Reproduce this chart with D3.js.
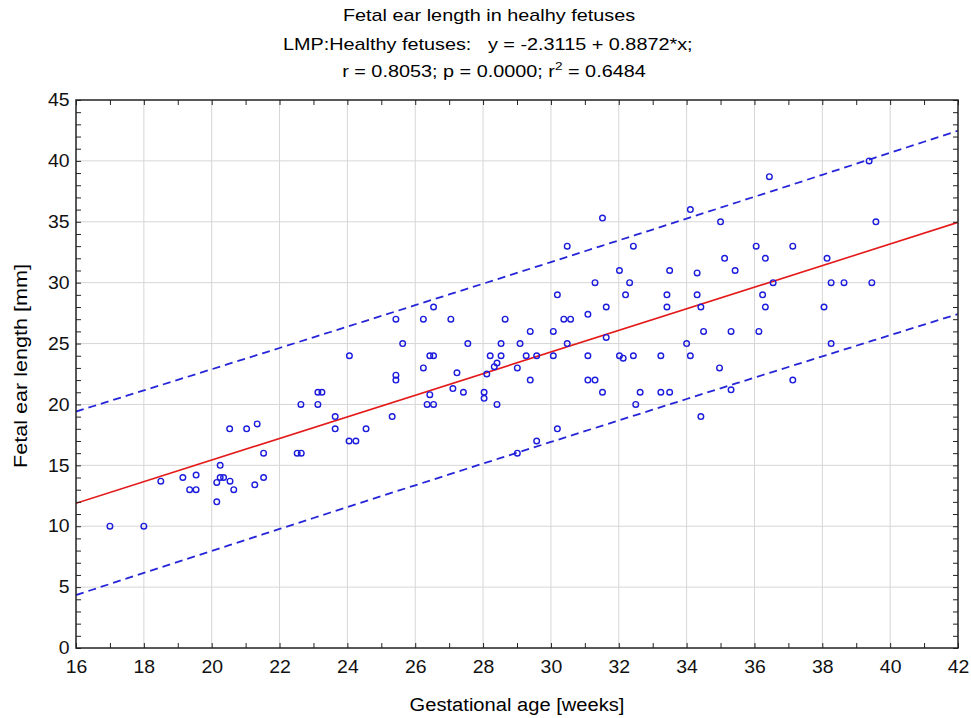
<!DOCTYPE html>
<html>
<head>
<meta charset="utf-8">
<script src="https://cdn.jsdelivr.net/npm/d3@7"></script>
<style>
  body { margin: 0; background: #fff; }
  text { font-family: "Liberation Sans", Arial, sans-serif; }
</style>
</head>
<body>
<div id="chart"></div>
<script>
// Gestational age [weeks] and fetal ear length [mm]
var ages = [
  17, 18, 18.5, 19.15, 19.35, 19.54, 19.54, 20.15, 20.15, 20.25, 20.25, 20.35, 20.54, 20.65,
  20.53, 21.03, 21.34, 21.27, 21.53, 21.53, 22.52, 22.64, 22.63,
  23.13, 23.25, 23.13, 23.64, 23.64, 24.05, 24.25, 24.06, 24.55, 25.32, 25.43, 25.43, 25.43,
  25.63, 26.24, 26.54, 26.24, 26.43, 26.54, 26.43, 26.35, 26.54, 27.05, 27.23, 27.11, 27.42,
  27.55, 28.03, 28.03, 28.11, 28.21, 28.41, 28.33, 28.41, 28.53, 28.53, 28.65, 29.01, 29.01, 29.09,
  29.27, 29.39, 29.39, 29.58, 29.58, 30.07, 30.07, 30.19, 30.19, 30.38, 30.58, 30.48, 30.48,
  31.09, 31.09, 31.09, 31.3, 31.3, 31.52, 31.52, 31.63, 31.63, 32.02, 32.02, 32.13, 32.2, 32.32,
  32.43, 32.43, 32.5, 32.63, 33.24, 33.24, 33.5, 33.42, 33.42, 33.5, 34.0, 34.11, 34.11, 34.31,
  34.31, 34.42, 34.42, 34.5, 35.0, 34.97,
  35.12, 35.31, 35.31, 35.43, 36.05, 36.13, 36.24, 36.32, 36.32, 36.44, 36.55, 37.13, 37.13,
  38.05, 38.14, 38.26, 38.26, 38.64, 39.38, 39.46, 39.58
];
var earLength = [
  10, 10, 13.7, 14, 13, 14.2, 13, 13.6, 12, 15, 14, 14, 13.7, 13,
  18, 18, 18.4, 13.4, 16, 14, 16, 16, 20,
  21, 21, 20, 19, 18, 17, 17, 24, 18, 19, 27, 22.4, 22,
  25, 27, 28, 23, 24, 24, 20.8, 20, 20, 27, 22.6, 21.3, 21,
  25, 21, 20.5, 22.5, 24, 20, 23.1, 23.4, 25, 24, 27, 23, 16, 25,
  24, 26, 22, 24, 17, 26, 24, 29, 18, 27, 27, 33, 25,
  27.4, 24, 22, 22, 30, 35.3, 21, 28, 25.5, 31, 24, 23.8, 29, 30,
  33, 24, 20, 21, 24, 21, 21, 29, 28, 31, 25, 24, 36, 30.8,
  29, 28, 19, 26, 35, 23,
  32, 26, 21.2, 31, 33, 26, 29, 32, 28, 38.7, 30, 33, 22,
  28, 32, 30, 25, 30, 40, 30, 35
];

// Regression from the title: y = -2.3115 + 0.8872*x
var intercept = -2.3115;
var slope = 0.8872;

var xTicks = d3.range(16, 43, 1);
var yTicks = d3.range(0, 46, 1);

var svgWidth = 971;
var svgHeight = 718;
var margin = { top: 100, right: 13, bottom: 70, left: 76 };
var width = svgWidth - margin.left - margin.right;
var height = svgHeight - margin.top - margin.bottom;

var svg = d3.select("#chart")
  .append("svg")
  .attr("width", svgWidth)
  .attr("height", svgHeight);

var chart = svg.append("g")
  .attr("transform", `translate(${margin.left}, ${margin.top})`);

var xScale = d3.scaleLinear().domain([16, 42]).range([0, width]);
var yScale = d3.scaleLinear().domain([0, 45]).range([height, 0]);

// grid lines
chart.append("g")
  .selectAll("line")
  .data(xTicks.filter(d => d % 2 === 0 && d > 16 && d < 42))
  .enter()
  .append("line")
  .attr("x1", d => xScale(d)).attr("x2", d => xScale(d))
  .attr("y1", 0).attr("y2", height)
  .attr("stroke", "#d6d6d6");

chart.append("g")
  .selectAll("line")
  .data(yTicks.filter(d => d % 5 === 0 && d > 0 && d < 45))
  .enter()
  .append("line")
  .attr("x1", 0).attr("x2", width)
  .attr("y1", d => yScale(d)).attr("y2", d => yScale(d))
  .attr("stroke", "#d6d6d6");

// prediction band from the data around the given line
var n = ages.length;
var xMean = d3.mean(ages);
var sxx = d3.sum(ages, d => (d - xMean) * (d - xMean));
var sse = d3.sum(ages, (d, i) => Math.pow(earLength[i] - (intercept + slope * d), 2));
var s = Math.sqrt(sse / (n - 2));
var tVal = 1.976;
var bandX = d3.range(16, 42.01, 0.5);
function half(x) {
  return tVal * s * Math.sqrt(1 + 1 / n + (x - xMean) * (x - xMean) / sxx);
}

chart.append("clipPath").attr("id", "clip")
  .append("rect").attr("width", width).attr("height", height);

var line = d3.line().x(d => xScale(d[0])).y(d => yScale(d[1]));

var lines = chart.append("g").attr("clip-path", "url(#clip)");

[1, -1].forEach(function(sign) {
  lines.append("path")
    .datum(bandX.map(x => [x, intercept + slope * x + sign * half(x)]))
    .attr("d", line)
    .attr("fill", "none")
    .attr("stroke", "#2626d8")
    .attr("stroke-width", 1.8)
    .attr("stroke-dasharray", "8,5");
});

lines.append("path")
  .datum([[16, intercept + slope * 16], [42, intercept + slope * 42]])
  .attr("d", line)
  .attr("fill", "none")
  .attr("stroke", "#e41a1a")
  .attr("stroke-width", 1.6);

// points
chart.append("g")
  .selectAll("circle")
  .data(ages)
  .enter()
  .append("circle")
  .attr("cx", d => xScale(d))
  .attr("cy", (d, i) => yScale(earLength[i]))
  .attr("r", 2.8)
  .attr("fill", "none")
  .attr("stroke", "#1c1cdc")
  .attr("stroke-width", 1.4);

// axes with inside ticks on all four sides
function styleAxis(g) {
  g.select(".domain").remove();
  g.selectAll("line").attr("stroke", "#222");
  g.selectAll("text").attr("font-size", 18).attr("fill", "#111")
    .attr("font-family", "'Liberation Sans', Arial, sans-serif");
}

chart.append("g")
  .attr("transform", `translate(0,${height})`)
  .call(d3.axisBottom(xScale).tickValues(xTicks).tickSize(-5).tickPadding(12)
    .tickFormat(d => d % 2 === 0 ? d : ""))
  .call(styleAxis)
  .selectAll("text").attr("transform", "scale(1.08,1)");

chart.append("g")
  .call(d3.axisTop(xScale).tickValues(xTicks).tickSize(-5).tickFormat(""))
  .call(styleAxis);

chart.append("g")
  .call(d3.axisLeft(yScale).tickValues(yTicks).tickSize(-5).tickPadding(6)
    .tickFormat(d => d % 5 === 0 ? d : ""))
  .call(styleAxis)
  .selectAll("text").attr("transform", "scale(1.08,1)");

chart.append("g")
  .attr("transform", `translate(${width},0)`)
  .call(d3.axisRight(yScale).tickValues(yTicks).tickSize(-5).tickFormat(""))
  .call(styleAxis);

chart.append("rect")
  .attr("width", width).attr("height", height)
  .attr("fill", "none").attr("stroke", "#222").attr("stroke-width", 1.5);

// titles (the original text is drawn a bit wide)
var titles = svg.append("g").attr("transform", "translate(489,0) scale(1.24,1)");
titles.append("text").attr("x", 0).attr("y", 21).attr("text-anchor", "middle")
  .attr("font-size", 16).text("Fetal ear length in healhy fetuses");
titles.append("text").attr("x", -1).attr("y", 50).attr("text-anchor", "middle")
  .attr("font-size", 16).attr("xml:space", "preserve")
  .text("LMP:Healthy fetuses:   y = -2.3115 + 0.8872*x;");
var t3 = titles.append("text").attr("x", 4).attr("y", 77).attr("text-anchor", "middle")
  .attr("font-size", 16);
t3.append("tspan").text("r = 0.8053; p = 0.0000; r");
t3.append("tspan").attr("font-size", 11).attr("dy", -7).text("2");
t3.append("tspan").attr("dy", 7).text(" = 0.6484");

svg.append("text")
  .attr("transform", "translate(517, 711) scale(1.06,1)")
  .attr("text-anchor", "middle")
  .attr("font-size", 19).text("Gestational age [weeks]");

svg.append("text")
  .attr("transform", "translate(27, 366) rotate(-90) scale(1.2,1)")
  .attr("text-anchor", "middle")
  .attr("font-size", 18).text("Fetal ear length [mm]");
</script>
</body>
</html>
